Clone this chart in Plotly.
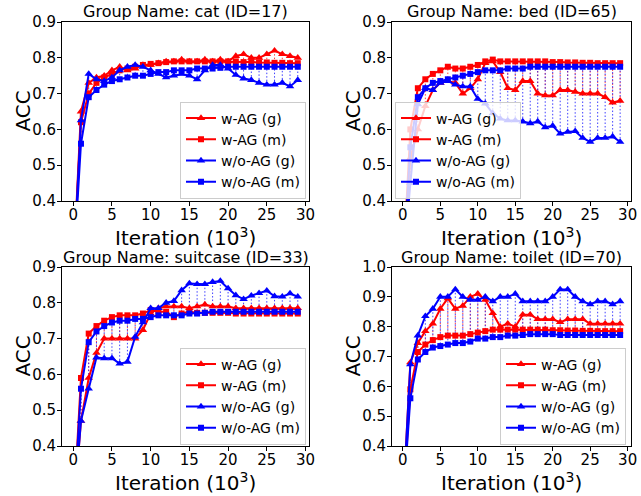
import plotly.graph_objects as go

W, H = 641, 496
FONT = "DejaVu Sans"
RED = "#ff0000"
BLUE = "#0000ff"

iterations = list(range(30))
x_ticks = [0, 5, 10, 15, 20, 25, 30]
series_names = ["w-AG (g)", "w-AG (m)", "w/o-AG (g)", "w/o-AG (m)"]
titles = ["Group Name: cat (ID=17)", "Group Name: bed (ID=65)",
          "Group Name: suitcase (ID=33)", "Group Name: toilet (ID=70)"]

# ---- cat ----
cat_wag_g = [0.2, 0.65, 0.73, 0.745, 0.75, 0.765, 0.775, 0.765, 0.77, 0.78, 0.78, 0.785, 0.79, 0.79, 0.795,
             0.79, 0.79, 0.795, 0.79, 0.795, 0.79, 0.805, 0.81, 0.80, 0.80, 0.81, 0.82, 0.81, 0.805, 0.80]
cat_wag_m = [0.2, 0.62, 0.70, 0.73, 0.745, 0.755, 0.765, 0.77, 0.775, 0.78, 0.783, 0.785, 0.788, 0.79, 0.79,
             0.79, 0.79, 0.79, 0.79, 0.79, 0.79, 0.79, 0.788, 0.788, 0.787, 0.787, 0.786, 0.786, 0.785, 0.785]
cat_wog_g = [0.2, 0.625, 0.755, 0.74, 0.735, 0.745, 0.765, 0.775, 0.78, 0.775, 0.765, 0.755, 0.745, 0.75, 0.755,
             0.75, 0.74, 0.765, 0.78, 0.78, 0.77, 0.752, 0.742, 0.738, 0.73, 0.725, 0.725, 0.73, 0.72, 0.738]
cat_wog_m = [0.2, 0.56, 0.69, 0.71, 0.725, 0.735, 0.74, 0.745, 0.75, 0.75, 0.755, 0.76, 0.76, 0.765, 0.765,
             0.765, 0.77, 0.77, 0.77, 0.772, 0.775, 0.775, 0.775, 0.775, 0.775, 0.775, 0.775, 0.775, 0.775, 0.775]

# ---- bed ----
bed_wag_g = [0.2, 0.52, 0.60, 0.665, 0.71, 0.73, 0.735, 0.73, 0.70, 0.715, 0.74, 0.785, 0.79, 0.76, 0.715,
             0.71, 0.735, 0.735, 0.70, 0.695, 0.695, 0.71, 0.71, 0.705, 0.70, 0.70, 0.70, 0.69, 0.675, 0.68]
bed_wag_m = [0.2, 0.60, 0.715, 0.74, 0.755, 0.765, 0.775, 0.77, 0.77, 0.775, 0.78, 0.79, 0.795, 0.79, 0.79,
             0.79, 0.79, 0.79, 0.79, 0.79, 0.788, 0.788, 0.787, 0.787, 0.786, 0.786, 0.785, 0.785, 0.785, 0.785]
bed_wog_g = [0.2, 0.45, 0.67, 0.715, 0.71, 0.73, 0.735, 0.725, 0.72, 0.72, 0.685, 0.672, 0.645, 0.63, 0.625,
             0.625, 0.622, 0.617, 0.622, 0.606, 0.61, 0.588, 0.593, 0.595, 0.576, 0.565, 0.576, 0.576, 0.58, 0.565]
bed_wog_m = [0.2, 0.55, 0.69, 0.715, 0.73, 0.735, 0.74, 0.745, 0.75, 0.755, 0.76, 0.765, 0.765, 0.765, 0.77,
             0.77, 0.77, 0.775, 0.775, 0.775, 0.775, 0.775, 0.775, 0.775, 0.775, 0.775, 0.775, 0.775, 0.775, 0.775]

# ---- suitcase ----
suit_wag_g = [0.2, 0.47, 0.59, 0.66, 0.70, 0.70, 0.70, 0.70, 0.70, 0.724, 0.77, 0.785, 0.79, 0.79, 0.79,
              0.785, 0.79, 0.795, 0.79, 0.79, 0.79, 0.785, 0.785, 0.785, 0.785, 0.785, 0.785, 0.785, 0.785, 0.785]
suit_wag_m = [0.2, 0.59, 0.714, 0.735, 0.75, 0.76, 0.765, 0.765, 0.765, 0.77, 0.78, 0.775, 0.775, 0.76, 0.77,
              0.775, 0.772, 0.772, 0.772, 0.772, 0.772, 0.77, 0.77, 0.77, 0.77, 0.77, 0.77, 0.77, 0.77, 0.77]
suit_wog_g = [0.2, 0.47, 0.56, 0.647, 0.645, 0.645, 0.63, 0.635, 0.705, 0.745, 0.785, 0.785, 0.80, 0.805, 0.835,
              0.854, 0.852, 0.852, 0.858, 0.861, 0.84, 0.821, 0.81, 0.82, 0.827, 0.834, 0.818, 0.817, 0.826, 0.817]
suit_wog_m = [0.2, 0.56, 0.69, 0.72, 0.735, 0.745, 0.75, 0.75, 0.755, 0.755, 0.76, 0.765, 0.765, 0.765, 0.765,
              0.77, 0.77, 0.772, 0.775, 0.775, 0.775, 0.775, 0.775, 0.775, 0.775, 0.775, 0.775, 0.775, 0.775, 0.775]

# ---- toilet ----
toil_wag_g = [0.2, 0.68, 0.745, 0.785, 0.81, 0.86, 0.895, 0.86, 0.87, 0.90, 0.91, 0.89, 0.845, 0.80, 0.81,
              0.80, 0.84, 0.84, 0.825, 0.825, 0.825, 0.815, 0.825, 0.825, 0.825, 0.81, 0.81, 0.81, 0.81, 0.81]
toil_wag_m = [0.2, 0.59, 0.715, 0.74, 0.755, 0.765, 0.77, 0.77, 0.77, 0.775, 0.78, 0.785, 0.79, 0.79, 0.79,
              0.79, 0.79, 0.79, 0.79, 0.79, 0.788, 0.788, 0.787, 0.787, 0.786, 0.786, 0.785, 0.785, 0.785, 0.785]
toil_wog_g = [0.2, 0.674, 0.77, 0.835, 0.86, 0.90, 0.90, 0.925, 0.90, 0.89, 0.89, 0.90, 0.885, 0.90, 0.90,
              0.91, 0.885, 0.885, 0.885, 0.885, 0.90, 0.925, 0.925, 0.90, 0.885, 0.875, 0.885, 0.885, 0.875, 0.885]
toil_wog_m = [0.2, 0.56, 0.69, 0.715, 0.73, 0.735, 0.74, 0.745, 0.745, 0.75, 0.76, 0.76, 0.765, 0.765, 0.77,
              0.77, 0.772, 0.775, 0.775, 0.775, 0.775, 0.772, 0.772, 0.772, 0.772, 0.772, 0.772, 0.772, 0.772, 0.772]

y_ticks_a = [0.4, 0.5, 0.6, 0.7, 0.8, 0.9]
y_ticks_b = [0.4, 0.5, 0.6, 0.7, 0.8, 0.9, 1.0]

panels = [
    (cat_wag_g, cat_wag_m, cat_wog_g, cat_wog_m, y_ticks_a),
    (bed_wag_g, bed_wag_m, bed_wog_g, bed_wog_m, y_ticks_a),
    (suit_wag_g, suit_wag_m, suit_wog_g, suit_wog_m, y_ticks_a),
    (toil_wag_g, toil_wag_m, toil_wog_g, toil_wog_m, y_ticks_b),
]

# pixel geometry of the axes boxes (left, right, top, bottom)
boxes = [(62, 309, 22, 201), (392, 631, 22, 201), (62, 309, 267, 446), (392, 631, 267, 446)]
# legend anchors: (x px, y px centre, xanchor)
legend_pos = [(306, 150, "right"), (395, 150, "left"), (306, 396, "right"), (626, 396, "right")]


def px_x(p):
    return p / W


def px_y(p):
    return 1 - p / H


fig = go.Figure()
layout = {}
annotations = []

for k, (wg, wm, og, om, yt) in enumerate(panels):
    idx = "" if k == 0 else str(k + 1)
    xa, ya = "x" + idx, "y" + idx
    leg = "legend" + idx
    l, r, t, b = boxes[k]

    # dotted connectors between (g) and (m)
    for g, m, col in ((wg, wm, RED), (og, om, BLUE)):
        xs, ys = [], []
        for xi, gv, mv in zip(iterations, g, m):
            xs += [xi, xi, None]
            ys += [gv, mv, None]
        fig.add_trace(go.Scatter(x=xs, y=ys, mode="lines", xaxis=xa, yaxis=ya,
                                 line=dict(color=col, width=1, dash="1.5px,2px"),
                                 opacity=0.75, showlegend=False, hoverinfo="skip"))

    specs = [(wg, RED, "triangle-up", 7.5), (wm, RED, "square", 6),
             (og, BLUE, "triangle-up", 7.5), (om, BLUE, "square", 6)]
    for name, (vals, col, sym, ms) in zip(series_names, specs):
        fig.add_trace(go.Scatter(x=iterations, y=vals, mode="lines+markers", name=name,
                                 xaxis=xa, yaxis=ya, legend=leg,
                                 line=dict(color=col, width=2),
                                 marker=dict(symbol=sym, size=ms, color=col)))

    common = dict(showline=True, mirror=True, linecolor="black", linewidth=1,
                  ticks="outside", ticklen=4, tickcolor="black", showgrid=False,
                  zeroline=False, automargin=False,
                  tickfont=dict(family=FONT, size=15, color="black"))
    layout["xaxis" + idx] = dict(domain=[px_x(l), px_x(r)], range=[-1.45, 30.45],
                                 tickvals=x_ticks, anchor=ya, ticklabelstandoff=-4, **common)
    layout["yaxis" + idx] = dict(domain=[px_y(b), px_y(t)], range=[yt[0], yt[-1]],
                                 tickvals=yt, tickformat=".1f", anchor=xa, ticklabelstandoff=-2,
                                 **common)

    lx, lyc, lxa = legend_pos[k]
    layout[leg] = dict(x=px_x(lx), y=px_y(lyc), xanchor=lxa, yanchor="middle",
                       xref="paper", yref="paper",
                       font=dict(family=FONT, size=14, color="black"),
                       bgcolor="rgba(255,255,255,0.8)", bordercolor="#cccccc",
                       borderwidth=1, itemwidth=30, tracegroupgap=0)

    cx = (l + r) / 2
    cy = (t + b) / 2
    annotations.append(dict(text=titles[k], x=px_x(cx), y=px_y(t - 10), xref="paper", yref="paper",
                            showarrow=False, xanchor="center", yanchor="middle",
                            font=dict(family=FONT, size=16, color="black")))
    annotations.append(dict(text="Iteration (10<sup>3</sup>)", x=px_x(cx), y=px_y(b + 36),
                            xref="paper", yref="paper", showarrow=False,
                            xanchor="center", yanchor="middle",
                            font=dict(family=FONT, size=20, color="black")))
    annotations.append(dict(text="ACC", x=px_x(l - 40), y=px_y(cy), xref="paper", yref="paper",
                            showarrow=False, xanchor="center", yanchor="middle", textangle=-90,
                            font=dict(family=FONT, size=20, color="black")))

fig.update_layout(width=W, height=H, margin=dict(l=0, r=0, t=0, b=0),
                  paper_bgcolor="white", plot_bgcolor="white",
                  annotations=annotations, **layout)

fig.write_html("out.html", post_script="document.body.style.margin='0';",
               config={"displayModeBar": False})
